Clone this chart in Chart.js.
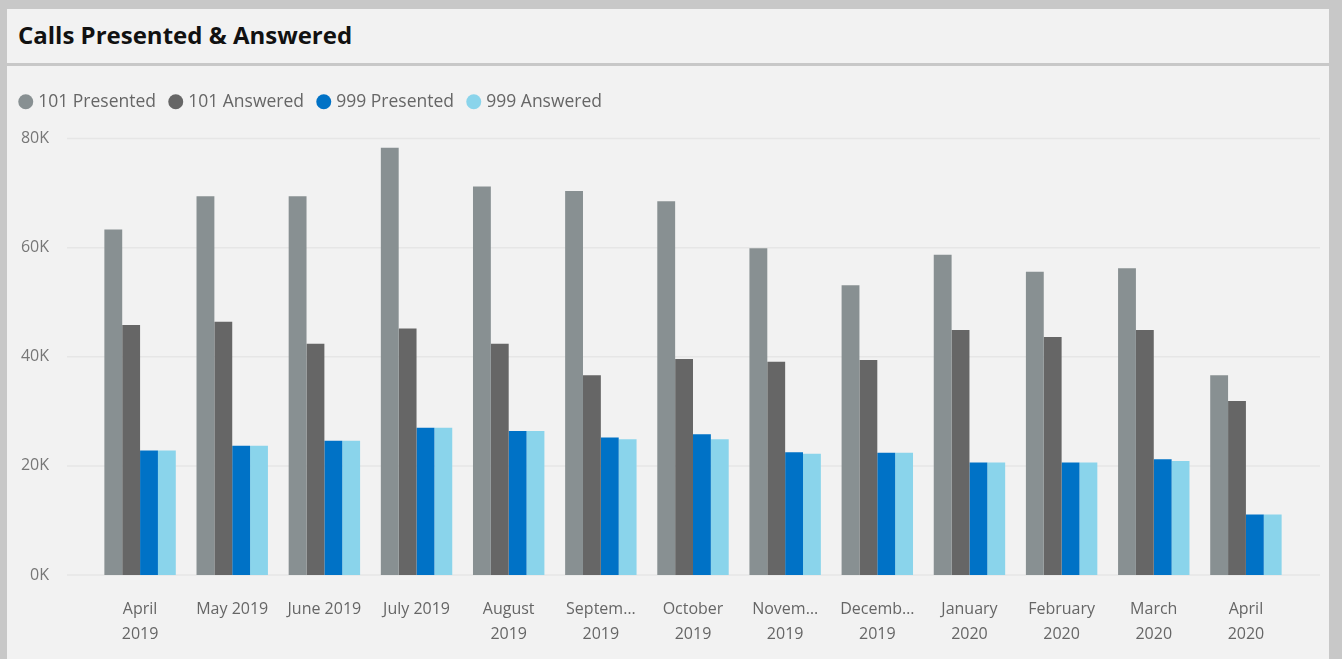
<!DOCTYPE html>
<html>
<head>
<meta charset="utf-8">
<script src="https://cdn.jsdelivr.net/npm/chart.js@4"></script>
<style>
  html, body { margin: 0; padding: 0; background: #c8c8c8; width: 1342px; height: 659px; overflow: hidden; }
  #titlePanel { position: absolute; left: 7px; top: 9px; width: 1322px; height: 54px; background: #f2f2f2; }
  #titleText { position: absolute; left: 11px; top: 9px; font-family: "Open Sans", sans-serif; font-weight: 700; font-size: 24px; color: #111; white-space: nowrap; }
  #bodyPanel { position: absolute; left: 7px; top: 66px; width: 1322px; height: 593px; background: #f2f2f2; }
  #c { position: absolute; left: 0; top: 0; }
</style>
</head>
<body>
<div id="titlePanel"><div id="titleText">Calls Presented &amp; Answered</div></div>
<div id="bodyPanel"></div>
<canvas id="c" width="1342" height="659"></canvas>
<script>
const categories = [
  ["April", "2019"], ["May 2019"], ["June 2019"], ["July 2019"], ["August", "2019"],
  ["Septem…", "2019"], ["October", "2019"], ["Novem…", "2019"], ["Decemb…", "2019"],
  ["January", "2020"], ["February", "2020"], ["March", "2020"], ["April", "2020"]
];
const seriesNames = ["101 Presented", "101 Answered", "999 Presented", "999 Answered"];
const presented101 = [63300, 69400, 69400, 78300, 71200, 70400, 68500, 59900, 53100, 58700, 55600, 56200, 36600];
const answered101  = [45800, 46400, 42400, 45200, 42400, 36600, 39600, 39100, 39400, 44900, 43600, 44900, 31900];
const presented999 = [22800, 23700, 24600, 27000, 26400, 25200, 25800, 22500, 22400, 20600, 20600, 21200, 11100];
const answered999  = [22800, 23700, 24600, 27000, 26400, 24900, 24900, 22200, 22400, 20600, 20600, 20900, 11100];
const yTicks = [0, 20000, 40000, 60000, 80000];

const colors = ["#889092", "#666666", "#0072C6", "#8AD4EB"];
const FONT = '"Open Sans", sans-serif';

const gridPlugin = {
  id: 'extGrid',
  beforeDatasetsDraw(chart) {
    const ctx = chart.ctx, ys = chart.scales.y, a = chart.chartArea;
    ctx.save();
    ctx.strokeStyle = '#e6e6e6';
    ctx.lineWidth = 1.5;
    yTicks.forEach(v => {
      const y = ys.getPixelForValue(v);
      ctx.beginPath();
      ctx.moveTo(a.left - 27, y);
      ctx.lineTo(a.right + 28, y);
      ctx.stroke();
    });
    ctx.restore();
  }
};

new Chart(document.getElementById('c'), {
  type: 'bar',
  data: {
    labels: categories,
    datasets: [presented101, answered101, presented999, answered999].map((d, i) => ({
      label: seriesNames[i], data: d, backgroundColor: colors[i], borderWidth: 0,
      categoryPercentage: 0.775, barPercentage: 1
    }))
  },
  options: {
    responsive: false,
    animation: false,
    layout: { padding: { left: 6, right: 50, top: 77, bottom: 0 } },
    plugins: {
      tooltip: { enabled: false },
      legend: {
        position: 'top', align: 'start',
        labels: {
          usePointStyle: true, pointStyle: 'circle', boxWidth: 7.5, boxHeight: 10.6,
          padding: 16, color: '#666666', font: { family: FONT, size: 17.5 }
        }
      },
      subtitle: { display: true, text: '', weight: 500, padding: 0, font: { size: 18, lineHeight: 1 } }
    },
    scales: {
      x: {
        afterFit(s) { s.height = 84; },
        grid: { display: false, drawTicks: false },
        border: { display: false },
        ticks: { color: '#666666', font: { family: FONT, size: 16, lineHeight: 1.55 }, padding: 22, maxRotation: 0, autoSkip: false }
      },
      y: {
        min: 0, max: 80000,
        afterFit(s) { s.width = 88; },
        afterBuildTicks(s) { s.ticks = yTicks.map(v => ({ value: v })); },
        grid: { display: false, drawTicks: false },
        border: { display: false },
        ticks: { color: '#777777', font: { family: FONT, size: 16 }, padding: 45, callback: v => (v / 1000) + 'K' }
      }
    }
  },
  plugins: [gridPlugin]
});
</script>
</body>
</html>
